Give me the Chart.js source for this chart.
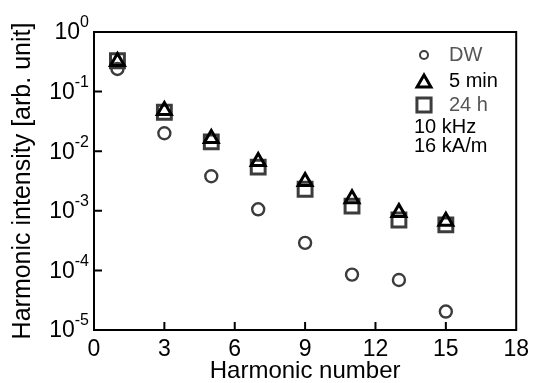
<!DOCTYPE html>
<html>
<head>
<meta charset="UTF-8">
<title>Harmonic intensity</title>
<script src="https://cdn.jsdelivr.net/npm/chart.js"></script>
<style>
  html, body { margin: 0; padding: 0; background: #fff; }
  #wrap { width: 535px; height: 383px; }
</style>
</head>
<body>
<div id="wrap"><canvas id="harm"></canvas></div>
<script>
// harmonic numbers (odd)
const harmonics = [1, 3, 5, 7, 9, 11, 13, 15];
// intensities [arb. unit]
const dwVals   = [0.24, 0.020, 0.0038, 0.00106, 0.00029, 0.000085, 0.000069, 0.0000204];
const min5Vals = [0.32, 0.048, 0.0163, 0.0067, 0.0031, 0.0016, 0.00094, 0.00067];
const h24Vals  = [0.33, 0.045, 0.0143, 0.0054, 0.0023, 0.0012, 0.00070, 0.00058];
const yExponents = [0, -1, -2, -3, -4, -5];
const seriesNames = ['DW', '5 min', '24 h'];
const noteLines = ['10 kHz', '16 kA/m'];

const FONT = 'Liberation Sans, Arial, sans-serif';
const GRAY = '#3c3c3c';

function pts(vals) {
  return harmonics.map((h, i) => ({ x: h, y: vals[i] }));
}

// frame with inward ticks + 10^n labels
const framePlugin = {
  id: 'frame',
  beforeDatasetsDraw(chart) {
    const { ctx, chartArea: a, scales } = chart;
    ctx.save();
    ctx.strokeStyle = '#000';
    ctx.lineWidth = 2;
    ctx.strokeRect(a.left, a.top, a.right - a.left, a.bottom - a.top);
    ctx.beginPath();
    for (let v = 3; v < 18; v += 3) {
      const x = scales.x.getPixelForValue(v);
      ctx.moveTo(x, a.bottom);
      ctx.lineTo(x, a.bottom - 8);
    }
    yExponents.forEach(e => {
      if (e === 0 || e === -5) return;
      const y = scales.y.getPixelForValue(Math.pow(10, e));
      ctx.moveTo(a.left, y);
      ctx.lineTo(a.left + 8, y);
    });
    ctx.stroke();

    // y tick labels
    ctx.fillStyle = '#000';
    ctx.textBaseline = 'middle';
    yExponents.forEach(e => {
      const y = scales.y.getPixelForValue(Math.pow(10, e));
      const sup = String(e);
      ctx.font = '16px ' + FONT;
      const sw = ctx.measureText(sup).width;
      const right = a.left - 5;
      ctx.textAlign = 'left';
      ctx.fillText(sup, right - sw, y - 9);
      ctx.font = '23px ' + FONT;
      ctx.textAlign = 'right';
      ctx.fillText('10', right - sw, y + 1);
    });
    ctx.restore();
  }
};

// legend drawn inside the plot
const legendPlugin = {
  id: 'innerLegend',
  afterDatasetsDraw(chart) {
    const { ctx } = chart;
    const rows = [55, 81, 105];
    const order = [2, 0, 1]; // DW, 5 min, 24 h -> dataset index
    const textColors = ['#555', '#000', '#555'];
    const markerSizes = [4, 8, 10];
    ctx.save();
    ctx.font = '20px ' + FONT;
    ctx.textBaseline = 'middle';
    ctx.textAlign = 'left';
    rows.forEach((y, i) => {
      const ds = chart.data.datasets[order[i]];
      ctx.strokeStyle = ds.borderColor;
      ctx.fillStyle = 'rgba(0,0,0,0)';
      ctx.lineWidth = i === 0 ? 2 : 3;
      Chart.helpers.drawPoint(ctx, {
        pointStyle: ds.pointStyle, radius: markerSizes[i], borderWidth: ctx.lineWidth, rotation: 0
      }, 424, y + (ds.pointStyle === 'triangle' ? 2 : 0));
      ctx.fillStyle = textColors[i];
      ctx.fillText(seriesNames[i], 449, y);
    });
    ctx.fillStyle = '#000';
    ctx.fillText(noteLines[0], 414, 127);
    ctx.fillText(noteLines[1], 414, 146);
    ctx.restore();
  }
};

new Chart(document.getElementById('harm'), {
  type: 'scatter',
  data: {
    datasets: [{
      label: seriesNames[1],
      data: pts(min5Vals),
      pointStyle: 'triangle',
      pointRadius: 8,
      borderColor: '#000',
      backgroundColor: 'rgba(0,0,0,0)',
      borderWidth: 3
    }, {
      label: seriesNames[2],
      data: pts(h24Vals),
      pointStyle: 'rect',
      pointRadius: 9.8,
      borderColor: GRAY,
      backgroundColor: 'rgba(0,0,0,0)',
      borderWidth: 3
    }, {
      label: seriesNames[0],
      data: pts(dwVals),
      pointStyle: 'circle',
      pointRadius: 6,
      borderColor: GRAY,
      backgroundColor: 'rgba(0,0,0,0)',
      borderWidth: 2.4
    }]
  },
  options: {
    responsive: true,
    maintainAspectRatio: false,
    animation: false,
    layout: { padding: { left: 0, right: 17, top: 32, bottom: 0 } },
    plugins: {
      legend: { display: false },
      tooltip: { enabled: false }
    },
    elements: { point: { hoverRadius: 8 } },
    scales: {
      x: {
        type: 'linear',
        min: 0,
        max: 18,
        grid: { display: false, drawTicks: false },
        border: { display: false },
        ticks: {
          stepSize: 3,
          padding: 6,
          color: '#000',
          font: { family: FONT, size: 23 }
        },
        title: {
          display: true,
          text: 'Harmonic number',
          color: '#000',
          font: { family: FONT, size: 24, lineHeight: 1 },
          padding: { top: 0, bottom: 0 }
        },
        afterFit(scale) { scale.height = 53; }
      },
      y: {
        type: 'logarithmic',
        min: 1e-5,
        max: 1,
        grid: { display: false, drawTicks: false },
        border: { display: false },
        ticks: { display: false },
        afterBuildTicks(scale) {
          scale.ticks = yExponents.map(e => ({ value: Math.pow(10, e) }));
        },
        title: {
          display: true,
          text: 'Harmonic intensity [arb. unit]',
          color: '#000',
          font: { family: FONT, size: 25, lineHeight: 1 },
          padding: { top: 11, bottom: 0 }
        },
        afterFit(scale) { scale.width = 94; }
      }
    }
  },
  plugins: [framePlugin, legendPlugin]
});
</script>
</body>
</html>
